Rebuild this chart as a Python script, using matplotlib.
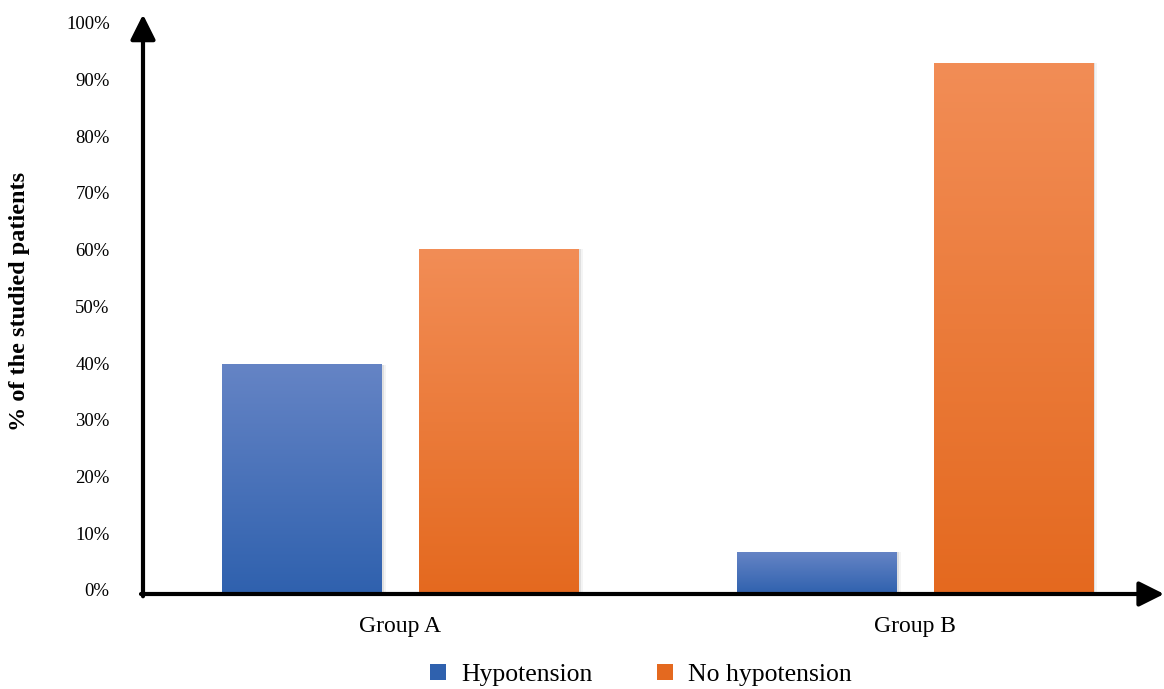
import matplotlib.pyplot as plt
import matplotlib.transforms as mtransforms
import numpy as np
from matplotlib.patches import Patch
from matplotlib.colors import LinearSegmentedColormap

groups = ["Group A", "Group B"]
series = ["Hypotension", "No hypotension"]
hypotension = [40.4, 7.4]
no_hypotension = [60.8, 93.6]
yticks = [0, 10, 20, 30, 40, 50, 60, 70, 80, 90, 100]

# (top colour, bottom colour) for each series
shades = [("#6584c5", "#2f61ae"), ("#f28d56", "#e4691f")]

plt.rcParams['font.family'] = ['Liberation Serif', 'DejaVu Serif']

fig = plt.figure(figsize=(11.64, 6.89), dpi=100)
ax = fig.add_axes([143 / 1164, 1 - 594 / 689, (1152 - 143) / 1164, (594 - 27) / 689])

x = np.arange(len(groups))
width = 0.31
offset = 0.191


def gradient_bars(xpos, vals, cols):
    bars = ax.bar(xpos, vals, width, color=cols[1], zorder=2)
    cmap = LinearSegmentedColormap.from_list("g", [cols[1], cols[0]])
    grad = np.linspace(0, 1, 256).reshape(-1, 1)
    for b in bars:
        x0, h = b.get_x(), b.get_height()
        # soft drop shadow
        for k, a in [(0.004, 0.22), (0.008, 0.1)]:
            ax.bar(x0 + width / 2 + k, h + 0.3, width, bottom=-0.3,
                   color="#9a9a9a", alpha=a, zorder=1, linewidth=0)
        ax.imshow(grad, extent=(x0, x0 + width, 0, h), origin="lower",
                  cmap=cmap, aspect="auto", zorder=3)
    return bars


gradient_bars(x - offset, hypotension, shades[0])
gradient_bars(x + offset, no_hypotension, shades[1])

ax.set_xlim(-0.5, 1.46)
ax.set_ylim(0, 100)
ax.set_yticks(yticks)
ax.set_yticklabels([f"{t}%" for t in yticks], fontsize=13.5)
ax.set_xticks(x)
ax.set_xticklabels(groups, fontsize=17)
ax.tick_params(axis="both", length=0)
ax.tick_params(axis="y", pad=24)
ax.tick_params(axis="x", pad=16)
# percent labels sit a little above their gridline positions
lift = mtransforms.ScaledTranslation(0, 3 / 72, fig.dpi_scale_trans)
for lbl in ax.get_yticklabels():
    lbl.set_transform(lbl.get_transform() + lift)
for s in ax.spines.values():
    s.set_visible(False)

# axes drawn as arrows
arrow = dict(arrowstyle="-|>,head_length=0.54,head_width=0.27",
             lw=3, color="black", shrinkA=0, shrinkB=0, mutation_scale=28)
ax.annotate("", xy=(0, 1.022), xytext=(0, -0.004), xycoords="axes fraction",
            arrowprops=arrow, annotation_clip=False)
ax.annotate("", xy=(1.012, 0), xytext=(-0.002, 0), xycoords="axes fraction",
            arrowprops=arrow, annotation_clip=False)

fig.text(20 / 1164, 1 - 301 / 689, "% of the studied patients", rotation=90,
         ha="center", va="center", fontsize=17.5, fontweight="bold")

handles = [Patch(facecolor=shades[0][1]), Patch(facecolor=shades[1][1])]
fig.legend(handles, series, loc="center", bbox_to_anchor=(641 / 1164, 1 - 675 / 689),
           ncol=2, frameon=False, fontsize=18.5, handlelength=0.62, handleheight=0.62,
           handletextpad=0.58, columnspacing=2.5)

fig.savefig("out.png", dpi=100)
